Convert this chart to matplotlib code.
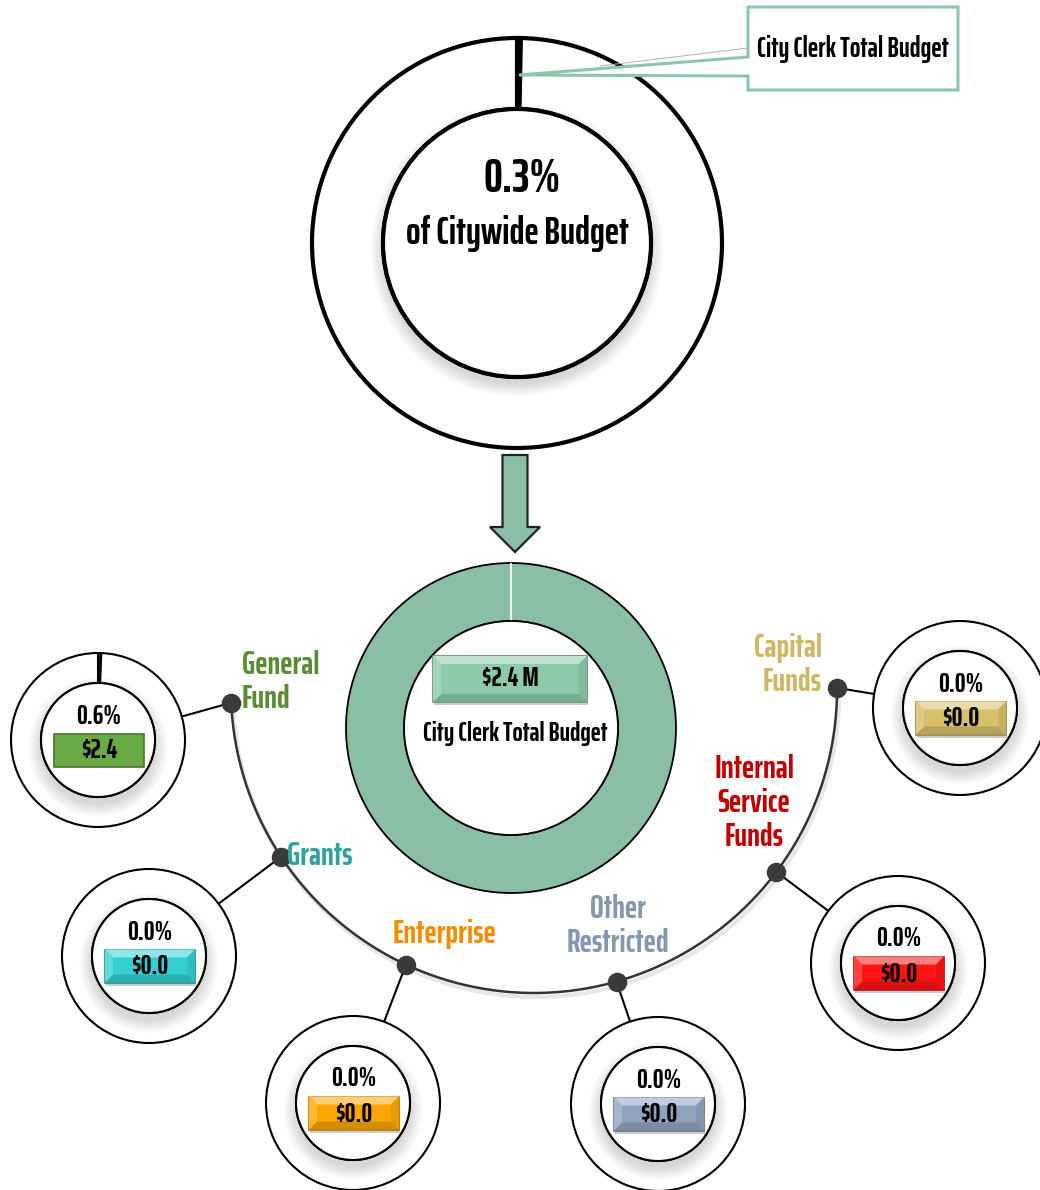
import matplotlib
matplotlib.use("Agg")
import matplotlib.pyplot as plt
import numpy as np
from matplotlib.patches import Circle, Rectangle, Polygon, FancyArrow
from matplotlib.colors import to_rgb

plt.rcParams['font.family'] = ['Saira ExtraCondensed', 'DejaVu Sans']
plt.rcParams['font.weight'] = 'bold'

# ---- data ----
citywide_share = 0.3          # % of citywide budget
total_budget = 2.4            # $ M
total_label = "City Clerk Total Budget"
funds = ['General\nFund', 'Grants', 'Enterprise', 'Other\nRestricted',
         'Internal\nService\nFunds', 'Capital\nFunds']
fund_share = [0.6, 0.0, 0.0, 0.0, 0.0, 0.0]     # % of each citywide fund
fund_amount = [2.4, 0.0, 0.0, 0.0, 0.0, 0.0]    # $ M

# ---- styles / layout ----
green = '#8abfa5'
label_colors = ['#5b8c35', '#2fa39b', '#f28c00', '#8497b0', '#c00000', '#d0b660']
box_colors = ['#6aaa45', '#35cfd0', '#fba600', '#8fa3bf', '#ff1414', '#d6c06a']
box_bevel = [False, True, True, True, True, True]
node_angles = [177.6, 146.6, 115.0, 74.2, 36.9, -0.4]
donut_centers = [(98, 740), (149, 956), (353, 1103), (658, 1104), (898, 963), (960, 708)]
label_pos = [(242, 682, 'left'), (287, 856, 'left'), (445, 934, 'center'),
             (618, 926, 'center'), (754, 803, 'center'), (822, 665, 'right')]

fig = plt.figure(figsize=(10.4, 11.9), dpi=100)
ax = fig.add_axes([0, 0, 1, 1])


def lighten(c, f):
    c = np.array(to_rgb(c))
    return tuple(c + (1 - c) * f)


def darken(c, f):
    return tuple(np.array(to_rgb(c)) * (1 - f))


def soft_shadow(c, r, z, dy=7):
    for k in range(10):
        ax.add_patch(Circle((c[0], c[1] + dy), r + k * 1.4, fc='black', ec='none',
                            alpha=0.017, zorder=z))


def donut(c, R, r, pct, slice_col, lw, z=2, shadow=True):
    ax.pie([pct, 100 - pct], radius=R, center=c, startangle=-90,
           colors=[slice_col, 'white'], frame=True,
           wedgeprops=dict(width=R - r, edgecolor='black', linewidth=lw, zorder=z))
    if shadow:
        soft_shadow(c, r, z + 1)
    ax.add_patch(Circle(c, r, fc='white', ec='black', lw=lw, zorder=z + 2))


def bevel_box(cx, cy, w, h, color, bevel=True, z=7):
    x0, y0, x1, y1 = cx - w / 2, cy - h / 2, cx + w / 2, cy + h / 2
    if bevel:
        ax.add_patch(Rectangle((x0 + 1, y0 + 3), w, h, fc='#8c8c8c', ec='none',
                               alpha=0.45, zorder=z - 1))
    ax.add_patch(Rectangle((x0, y0), w, h, fc=color, ec=darken(color, 0.3),
                           lw=1.2, zorder=z))
    if bevel:
        b = min(8, h * 0.25)
        ax.add_patch(Polygon([(x0, y0), (x1, y0), (x1 - b, y0 + b), (x0 + b, y0 + b)],
                             fc=lighten(color, 0.45), ec='none', zorder=z))
        ax.add_patch(Polygon([(x0, y1), (x1, y1), (x1 - b, y1 - b), (x0 + b, y1 - b)],
                             fc=darken(color, 0.15), ec='none', zorder=z))
        ax.add_patch(Polygon([(x0, y0), (x0 + b, y0 + b), (x0 + b, y1 - b), (x0, y1)],
                             fc=lighten(color, 0.2), ec='none', zorder=z))
        ax.add_patch(Polygon([(x1, y0), (x1 - b, y0 + b), (x1 - b, y1 - b), (x1, y1)],
                             fc=darken(color, 0.08), ec='none', zorder=z))


# ---- top donut: share of citywide budget ----
top_c = (517, 243)
donut(top_c, 205, 134, citywide_share, '#333333', 3)
ax.text(522, 179, f"{citywide_share:.1f}%", fontsize=34, ha='center', va='center', zorder=10)
ax.text(517, 233, "of Citywide Budget", fontsize=27.5, ha='center', va='center', zorder=10)

# callout
call = Polygon([(748, 7), (958, 7), (958, 90), (748, 90), (748, 76), (519, 75), (748, 57)],
               closed=True, fc='white', ec='#8cc6a9', lw=2.2, zorder=9)
ax.add_patch(call)
ax.plot([748, 600], [48, 66], color='#b0b0b0', lw=0.7, zorder=9)
ax.text(853, 49, total_label, fontsize=20, ha='center', va='center', zorder=10)

# arrow
ax.add_patch(FancyArrow(515, 455, 0, 97, width=25, head_width=50, head_length=25,
                        length_includes_head=True, fc=green, ec='#222222', lw=1.6, zorder=5))

# ---- middle donut: total budget ----
mid_c = (511, 728)
wedges, _ = ax.pie([0, total_budget], radius=165, center=mid_c, startangle=-90,
                   colors=[green, green], frame=True,
                   wedgeprops=dict(width=165 - 107, edgecolor='black', linewidth=1.3, zorder=2))
wedges[0].set_edgecolor('white')
wedges[0].set_zorder(3)
ax.add_patch(Circle(mid_c, 107, fc='white', ec='black', lw=1.3, zorder=4))
bevel_box(510, 679, 154, 46, '#8dcaa9')
ax.text(510, 679, f"${total_budget:.1f} M", fontsize=19.5, ha='center', va='center', zorder=10)
ax.text(515, 733, total_label, fontsize=19.3, ha='center', va='center', zorder=10)

# ---- arc with fund nodes ----
arc_c, arc_R = (534, 690), 303
t = np.radians(np.linspace(-0.4, 177.6, 300))
ax.plot(arc_c[0] + 2 + arc_R * np.cos(t), arc_c[1] + 4 + arc_R * np.sin(t),
        color='#bbbbbb', lw=3, alpha=0.35, zorder=1)
ax.plot(arc_c[0] + arc_R * np.cos(t), arc_c[1] + arc_R * np.sin(t),
        color='#333333', lw=1.8, zorder=2)

na = np.radians(node_angles)
node_x = arc_c[0] + arc_R * np.cos(na)
node_y = arc_c[1] + arc_R * np.sin(na)

for i, name in enumerate(funds):
    c = donut_centers[i]
    # connector from node to donut edge
    d = np.array([node_x[i] - c[0], node_y[i] - c[1]])
    d = d / np.hypot(*d)
    ax.plot([node_x[i], c[0] + 87 * d[0]], [node_y[i], c[1] + 87 * d[1]],
            color='black', lw=1.5, zorder=3)
    donut(c, 87, 57, fund_share[i], '#222222', 1.5, z=4)
    ax.text(c[0] + 1, c[1] - 24, f"{fund_share[i]:.1f}%", fontsize=19.5,
            ha='center', va='center', zorder=12)
    bevel_box(c[0] + 1, c[1] + 10, 90, 33, box_colors[i], box_bevel[i], z=10)
    ax.text(c[0] + 1, c[1] + 11, f"${fund_amount[i]:.1f}", fontsize=19.5,
            ha='center', va='center', zorder=12)
    lx, ly, ha = label_pos[i]
    ax.text(lx, ly, name, fontsize=23.5, color=label_colors[i], ha=ha, va='center',
            linespacing=1.17, zorder=12)

ax.scatter(node_x, node_y, s=170, color='#3a3a3a', zorder=9)

ax.set_xlim(0, 1040)
ax.set_ylim(1190, 0)
ax.set_aspect('equal')
ax.axis('off')
fig.savefig('out.png', dpi=100, facecolor='white')
